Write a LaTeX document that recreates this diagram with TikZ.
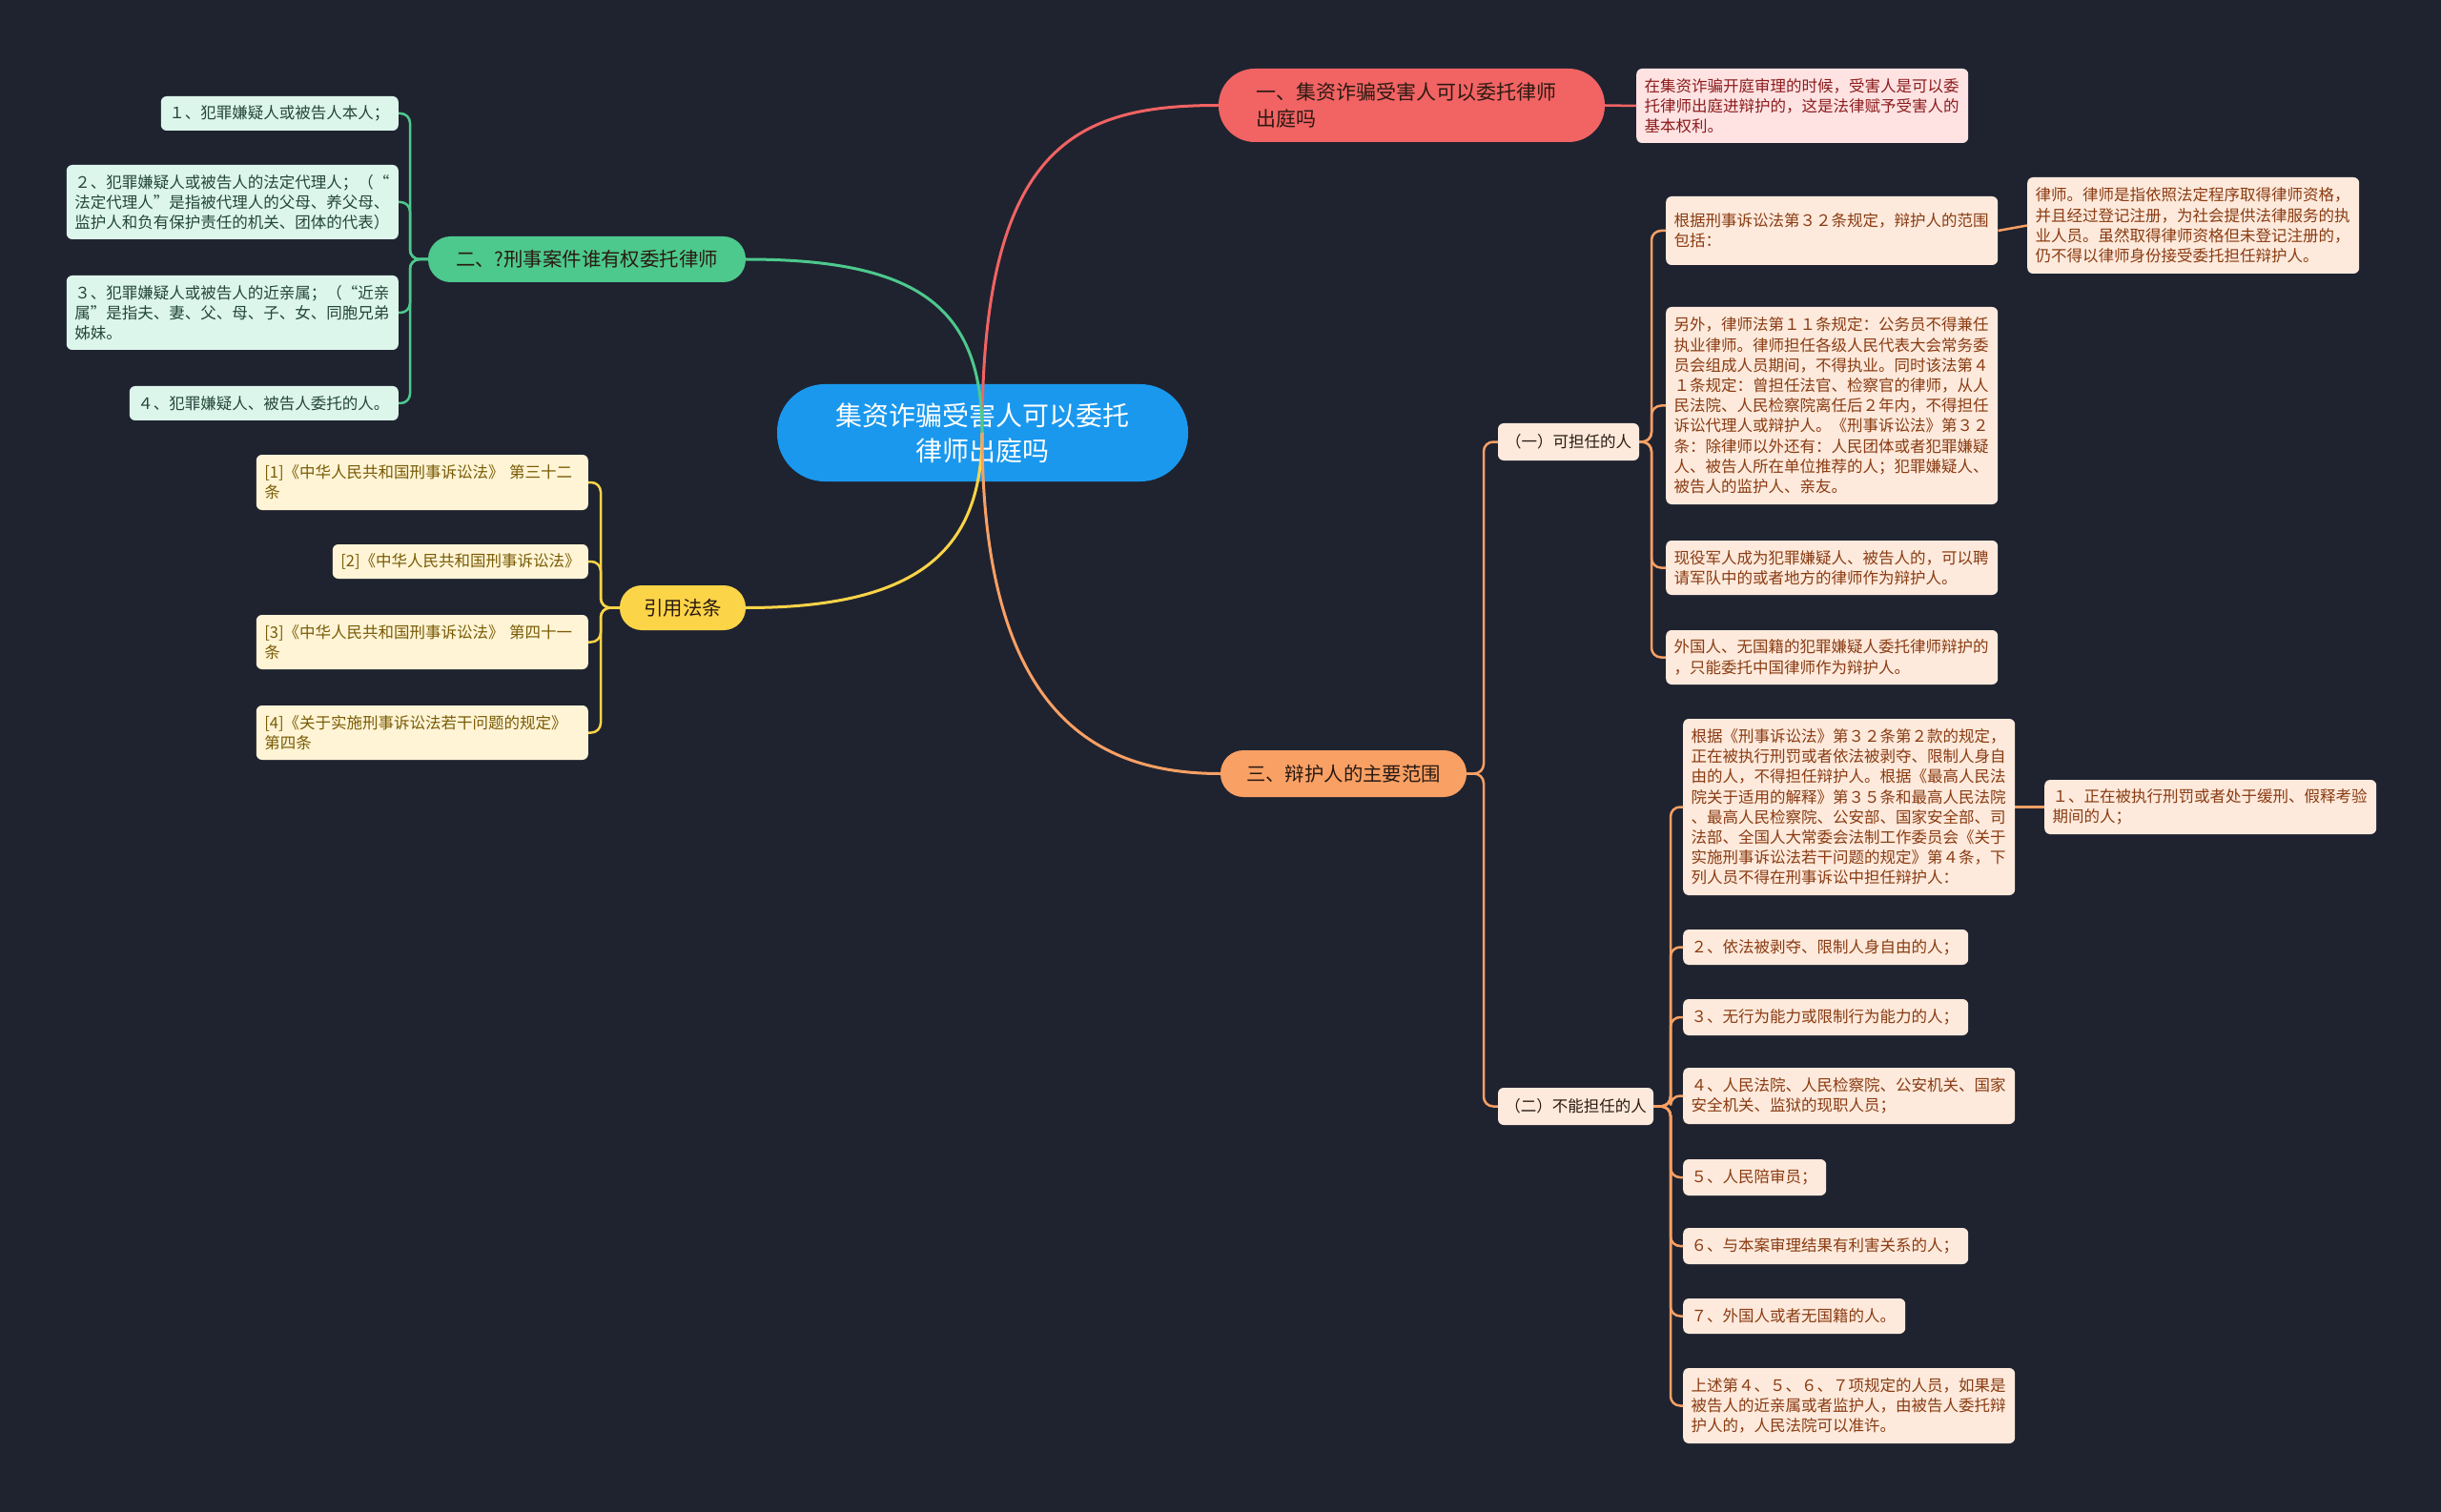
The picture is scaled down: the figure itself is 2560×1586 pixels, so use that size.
\documentclass[tikz,border=0pt]{standalone}
\usepackage{fontspec}
\setmainfont{Noto Sans CJK SC}
\definecolor{bg}{HTML}{1F2330}
\definecolor{cblue}{HTML}{1A98EE}
\definecolor{cred}{HTML}{F26363}
\definecolor{cgreen}{HTML}{4DC98D}
\definecolor{cyellow}{HTML}{FCD447}
\definecolor{corange}{HTML}{F9A064}
\definecolor{rleaf}{HTML}{FFE3E3}
\definecolor{rtext}{HTML}{8C1C1C}
\definecolor{gleaf}{HTML}{DDF6EB}
\definecolor{gtext}{HTML}{24463A}
\definecolor{yleaf}{HTML}{FFF5D6}
\definecolor{ytext}{HTML}{7A5B05}
\definecolor{oleaf}{HTML}{FDEADC}
\definecolor{otext}{HTML}{8A3B12}
\definecolor{btext}{HTML}{2A1A12}
\begin{document}
\begin{tikzpicture}[x=1pt,y=-1pt,
  leaf/.style={rounded corners=6pt, inner xsep=8.5pt, inner ysep=0pt, align=left,
    font=\fontsize{16.5}{21.2}\selectfont},
  rleafs/.style={leaf, fill=rleaf, text=rtext, anchor=west},
  gleafs/.style={leaf, fill=gleaf, text=gtext, anchor=east},
  yleafs/.style={leaf, fill=yleaf, text=ytext, anchor=east},
  oleafs/.style={leaf, fill=oleaf, text=otext, anchor=west},
  subbox/.style={rounded corners=6pt, inner sep=0pt, fill=oleaf, text=btext, align=center,
    font=\fontsize{16.5}{21.2}\selectfont},
  branch/.style={inner sep=0pt, align=center, text=btext, font=\fontsize{20.4}{26}\selectfont},
  mainline/.style={line width=3pt},
  subline/.style={line width=2.5pt, rounded corners=10pt}
]
\useasboundingbox (0,0) rectangle (2560,1586);
\fill[bg] (0,0) rectangle (2560,1586);

% central node
\node[fill=cblue, rounded corners=50pt, minimum width=431pt, minimum height=102pt, inner sep=0pt,
  text=white, align=center, font=\fontsize{28}{37}\selectfont] (root) at (1030.5,454)
  {集资诈骗受害人可以委托\\律师出庭吗};
\coordinate (c) at (1030,454);

% branch nodes
\node[branch, fill=cred, rounded corners=38pt, minimum height=77pt, text width=327pt,
  inner xsep=39pt, align=left, font=\fontsize{21}{28}\selectfont] (b1) at (1480.5,110.5)
  {一、集资诈骗受害人可以委托律师\\出庭吗};
\node[branch, fill=cgreen, rounded corners=23.5pt, minimum width=333pt, minimum height=48pt] (b2)
  at (615.5,272) {二、?刑事案件谁有权委托律师};
\node[branch, fill=cyellow, rounded corners=23pt, minimum width=132pt, minimum height=47pt] (b3)
  at (716,637.5) {引用法条};
\node[branch, fill=corange, rounded corners=24pt, minimum width=258pt, minimum height=49pt] (b4)
  at (1409,811.5) {三、辩护人的主要范围};

% main curves (over the central node)
\draw[mainline, cred] (c) .. controls (1030,150) and (1130,110.5) .. (b1.west);
\draw[mainline, cgreen] (b2.east) .. controls (960,272) and (1030,320) .. (c);
\draw[mainline, cyellow] (b3.east) .. controls (960,637.5) and (1030,580) .. (c);
\draw[mainline, corange] (c) .. controls (1030,750) and (1150,811.5) .. (b4.west);

% red leaf
\node[rleafs, text width=331pt, minimum height=78pt] (r1) at (1716,111)
  {在集资诈骗开庭审理的时候，受害人是可以委\\托律师出庭进辩护的，这是法律赋予受害人的\\基本权利。};
\draw[subline, cred] (b1.east) -- (r1.west);

% green leaves
\node[gleafs, text width=232pt, minimum height=36pt] (g1) at (418,119)
  {１、犯罪嫌疑人或被告人本人；};
\node[gleafs, text width=331pt, minimum height=78pt] (g2) at (418,212)
  {２、犯罪嫌疑人或被告人的法定代理人；（“\\法定代理人”是指被代理人的父母、养父母、\\监护人和负有保护责任的机关、团体的代表）};
\node[gleafs, text width=331pt, minimum height=78pt] (g3) at (418,328)
  {３、犯罪嫌疑人或被告人的近亲属；（“近亲\\属”是指夫、妻、父、母、子、女、同胞兄弟\\姊妹。};
\node[gleafs, text width=265pt, minimum height=36pt] (g4) at (418,423)
  {４、犯罪嫌疑人、被告人委托的人。};
\coordinate (gv) at (430,272);
\foreach \n in {g1,g2,g3,g4} \draw[subline, cgreen] (b2.west) -- (gv) |- (\n.east);

% yellow leaves
\node[yleafs, text width=331pt, minimum height=58pt] (y1) at (617,506)
  {[1]《中华人民共和国刑事诉讼法》 第三十二\\条};
\node[yleafs, text width=251pt, minimum height=36pt] (y2) at (617,589)
  {[2]《中华人民共和国刑事诉讼法》};
\node[yleafs, text width=331pt, minimum height=57pt] (y3) at (617,673.5)
  {[3]《中华人民共和国刑事诉讼法》 第四十一\\条};
\node[yleafs, text width=331pt, minimum height=57pt] (y4) at (617,768.5)
  {[4]《关于实施刑事诉讼法若干问题的规定》\\第四条};
\coordinate (yv) at (630,637.5);
\foreach \n in {y1,y2,y3,y4} \draw[subline, cyellow] (b3.west) -- (yv) |- (\n.east);

% orange sub nodes
\node[subbox, minimum width=148pt, minimum height=39pt] (s1) at (1645,463.5) {（一）可担任的人};
\node[subbox, minimum width=163pt, minimum height=39pt] (s2) at (1652.5,1160.5) {（二）不能担任的人};
\coordinate (ov) at (1556,811.5);
\foreach \n in {s1,s2} \draw[subline, corange] (b4.east) -- (ov) |- (\n.west);

% group (一)
\node[oleafs, text width=331pt, minimum height=72pt] (oa) at (1747,242)
  {根据刑事诉讼法第３２条规定，辩护人的范围\\包括：};
\node[oleafs, text width=331pt, minimum height=101pt] (oa2) at (2126,236.5)
  {律师。律师是指依照法定程序取得律师资格，\\并且经过登记注册，为社会提供法律服务的执\\业人员。虽然取得律师资格但未登记注册的，\\仍不得以律师身份接受委托担任辩护人。};
\node[oleafs, text width=331pt, minimum height=207pt] (ob) at (1747,425.5)
  {另外，律师法第１１条规定：公务员不得兼任\\执业律师。律师担任各级人民代表大会常务委\\员会组成人员期间，不得执业。同时该法第４\\１条规定：曾担任法官、检察官的律师，从人\\民法院、人民检察院离任后２年内，不得担任\\诉讼代理人或辩护人。《刑事诉讼法》第３２\\条：除律师以外还有：人民团体或者犯罪嫌疑\\人、被告人所在单位推荐的人；犯罪嫌疑人、\\被告人的监护人、亲友。};
\node[oleafs, text width=331pt, minimum height=57pt] (oc) at (1747,595.5)
  {现役军人成为犯罪嫌疑人、被告人的，可以聘\\请军队中的或者地方的律师作为辩护人。};
\node[oleafs, text width=331pt, minimum height=57pt] (od) at (1747,689.5)
  {外国人、无国籍的犯罪嫌疑人委托律师辩护的\\，只能委托中国律师作为辩护人。};
\coordinate (o1v) at (1732,463.5);
\foreach \n in {oa,ob,oc,od} \draw[subline, corange] (s1.east) -- (o1v) |- (\n.west);
\draw[subline, corange] (oa.east) -- (oa2.west);

% group (二)
\node[oleafs, text width=331pt, minimum height=185pt] (oe) at (1765,846.5)
  {根据《刑事诉讼法》第３２条第２款的规定，\\正在被执行刑罚或者依法被剥夺、限制人身自\\由的人，不得担任辩护人。根据《最高人民法\\院关于适用的解释》第３５条和最高人民法院\\、最高人民检察院、公安部、国家安全部、司\\法部、全国人大常委会法制工作委员会《关于\\实施刑事诉讼法若干问题的规定》第４条，下\\列人员不得在刑事诉讼中担任辩护人：};
\node[oleafs, text width=331pt, minimum height=57pt] (oe2) at (2144,846.5)
  {１、正在被执行刑罚或者处于缓刑、假释考验\\期间的人；};
\node[oleafs, text width=282pt, minimum height=37pt] (of) at (1765,993.5)
  {２、依法被剥夺、限制人身自由的人；};
\node[oleafs, text width=282pt, minimum height=38pt] (og) at (1765,1067)
  {３、无行为能力或限制行为能力的人；};
\node[oleafs, text width=331pt, minimum height=59pt] (oh) at (1765,1149.5)
  {４、人民法院、人民检察院、公安机关、国家\\安全机关、监狱的现职人员；};
\node[oleafs, text width=133pt, minimum height=38pt] (oi) at (1765,1235)
  {５、人民陪审员；};
\node[oleafs, text width=282pt, minimum height=38pt] (oj) at (1765,1307)
  {６、与本案审理结果有利害关系的人；};
\node[oleafs, text width=216pt, minimum height=37pt] (ok) at (1765,1380.5)
  {７、外国人或者无国籍的人。};
\node[oleafs, text width=331pt, minimum height=79pt] (ol) at (1765,1474.5)
  {上述第４、５、６、７项规定的人员，如果是\\被告人的近亲属或者监护人，由被告人委托辩\\护人的，人民法院可以准许。};
\coordinate (o2v) at (1752,1160.5);
\foreach \n in {oe,of,og,oh,oi,oj,ok,ol} \draw[subline, corange] (s2.east) -- (o2v) |- (\n.west);
\draw[subline, corange] (oe.east) -- (oe2.west);
\end{tikzpicture}
\end{document}
